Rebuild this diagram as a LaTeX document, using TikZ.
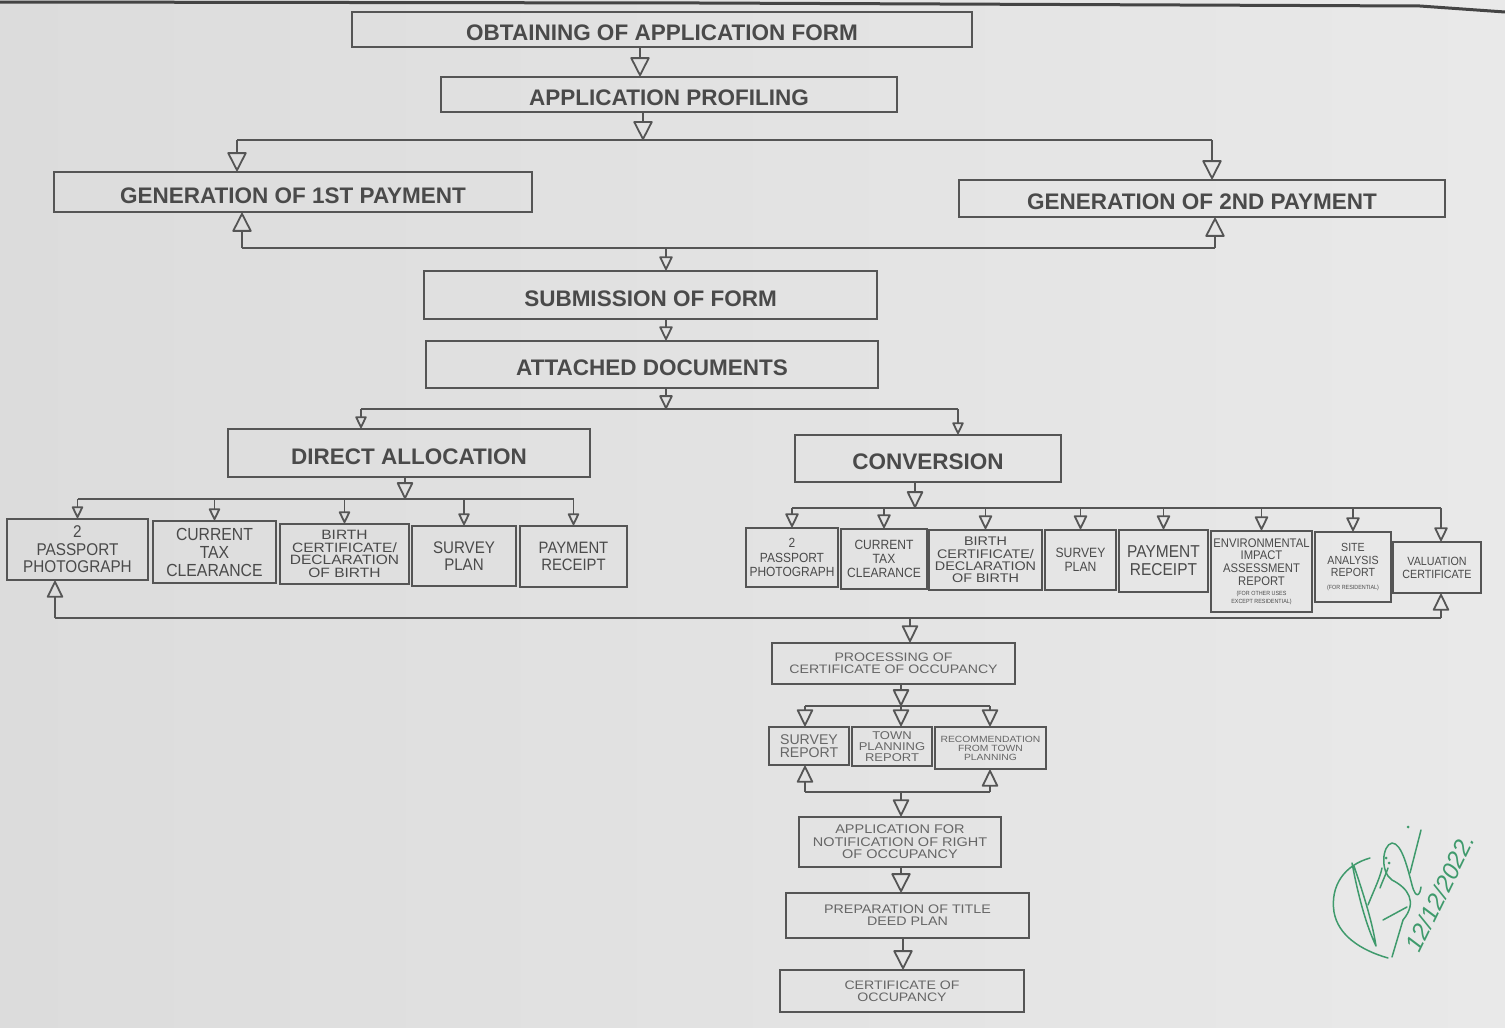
\documentclass[tikz,border=0pt]{standalone}
\usepackage{fontspec}
\setmainfont{Liberation Sans}
\newfontfamily\nrw[FakeStretch=0.9]{Liberation Sans}
\newfontfamily\wde[FakeStretch=1.15]{Liberation Sans}
\usetikzlibrary{arrows.meta,calc}
\definecolor{paperL}{HTML}{DCDCDC}
\definecolor{paperR}{HTML}{E9E9E9}
\definecolor{ink}{HTML}{555555}
\definecolor{txt}{HTML}{4A4A4A}
\definecolor{txtl}{HTML}{666666}
\definecolor{sig}{HTML}{3F9A6C}
\tikzset{
  box/.style={draw=ink, line width=1.8pt, rectangle, inner sep=0pt, align=center, text=txt},
  title/.style={box, text height=22pt, text depth=0pt, font=\bfseries\fontsize{22.5}{26}\selectfont},
  conn/.style={draw=ink, line width=1.8pt},
  tipL/.style={conn, -{Triangle[open,round,length=20pt,width=20pt]}},
  tipM/.style={conn, -{Triangle[open,round,length=18pt,width=17pt]}},
  tipS/.style={conn, -{Triangle[open,round,length=15pt,width=14pt]}},
  tipXS/.style={conn, -{Triangle[open,round,length=13pt,width=12pt]}},
}
\newcommand\fs[2]{\fontsize{#1}{#2}\selectfont}
\begin{document}
\begin{tikzpicture}[x=1pt,y=-1pt]
\useasboundingbox (0,0) rectangle (1505,1028);
\shade[left color=paperL, right color=paperR] (0,0) rectangle (1505,1028);
\draw[line width=3pt, color=ink!80!black] (0,2) -- (700,3) -- (1420,6) -- (1505,12);

% ---- boxes ----
\node[title, minimum width=620, minimum height=35] (obt) at (662,29.5) {OBTAINING OF APPLICATION FORM};
\node[title, minimum width=456, minimum height=35] (prof) at (669,94.5) {APPLICATION PROFILING};
\node[title, minimum width=478, minimum height=40] (gen1) at (293,192) {GENERATION OF 1ST PAYMENT};
\node[title, minimum width=486, minimum height=37] (gen2) at (1202,198.5) {GENERATION OF 2ND PAYMENT};
\node[title, minimum width=453, minimum height=48] (sub) at (650.5,295) {SUBMISSION OF FORM};
\node[title, minimum width=452, minimum height=47] (att) at (652,364.5) {ATTACHED DOCUMENTS};
\node[title, minimum width=362, minimum height=48] (dir) at (409,453) {DIRECT ALLOCATION};
\node[title, minimum width=266, minimum height=47] (conv) at (928,458.5) {CONVERSION};

% left row
\node[box, minimum width=141, minimum height=61, font=\nrw\fs{17}{17.5}] (L1) at (77.5,549.5) {2\\PASSPORT\\PHOTOGRAPH};
\node[box, minimum width=123, minimum height=62, font=\nrw\fs{17.5}{18}] (L2) at (214.5,552) {CURRENT\\TAX\\CLEARANCE};
\node[box, minimum width=129, minimum height=60, font=\wde\fs{13.5}{12.5}] (L3) at (344.5,554) {BIRTH\\CERTIFICATE/\\DECLARATION\\OF BIRTH};
\node[box, minimum width=104, minimum height=60, font=\nrw\fs{16.8}{17}] (L4) at (464,556) {SURVEY\\PLAN};
\node[box, minimum width=107, minimum height=61, font=\nrw\fs{16.5}{17}] (L5) at (573.5,556.5) {PAYMENT\\RECEIPT};

% right row
\node[box, minimum width=92, minimum height=59, font=\nrw\fs{13.3}{14.5}] (R1) at (792,557.5) {2\\PASSPORT\\PHOTOGRAPH};
\node[box, minimum width=86, minimum height=60, font=\nrw\fs{13.4}{14}] (R2) at (884,559) {CURRENT\\TAX\\CLEARANCE};
\node[box, minimum width=113, minimum height=60, font=\wde\fs{12.5}{12.3}] (R3) at (985.5,560) {BIRTH\\CERTIFICATE/\\DECLARATION\\OF BIRTH};
\node[box, minimum width=71, minimum height=60, font=\nrw\fs{13.5}{14}] (R4) at (1080.5,560) {SURVEY\\PLAN};
\node[box, minimum width=89, minimum height=62, font=\nrw\fs{17.2}{18}] (R5) at (1163.5,561) {PAYMENT\\RECEIPT};
\node[box, minimum width=101, minimum height=81, font=\nrw\fs{12.5}{12.7}] (R6) at (1261.5,571.5) {ENVIRONMENTAL\\IMPACT\\ASSESSMENT\\REPORT\\[-2pt]{\fs{6}{7}(FOR OTHER USES}\\[-5pt]{\fs{6}{7}EXCEPT RESIDENTIAL)}};
\node[box, minimum width=76, minimum height=70, font=\nrw\fs{11.8}{12.5}] (R7) at (1353,567) {SITE\\ANALYSIS\\REPORT\\{\fs{6}{7}(FOR RESIDENTIAL)}};
\node[box, minimum width=88, minimum height=51, font=\nrw\fs{11.9}{13}] (R8) at (1437,567.5) {VALUATION\\CERTIFICATE};

% lower chain
\node[box, text=txtl, minimum width=243, minimum height=41, font=\wde\fs{12.3}{12}] (proc) at (893.5,663.5) {PROCESSING OF\\CERTIFICATE OF OCCUPANCY};
\node[box, text=txtl, minimum width=80, minimum height=38, font=\fs{14.1}{13}] (S1) at (809,746) {SURVEY\\REPORT};
\node[box, text=txtl, minimum width=80, minimum height=39, font=\wde\fs{11.3}{11}] (S2) at (892,746.5) {TOWN\\PLANNING\\REPORT};
\node[box, text=txtl, minimum width=111, minimum height=42, font=\wde\fs{9}{9}] (S3) at (990.5,748) {RECOMMENDATION\\FROM TOWN\\PLANNING};
\node[box, text=txtl, minimum width=202, minimum height=50, font=\wde\fs{12.6}{12.5}] (app) at (900,842) {APPLICATION FOR\\NOTIFICATION OF RIGHT\\OF OCCUPANCY};
\node[box, text=txtl, minimum width=243, minimum height=45, font=\wde\fs{12.4}{12}] (prep) at (907.5,915.5) {PREPARATION OF TITLE\\DEED PLAN};
\node[box, text=txtl, minimum width=244, minimum height=42, font=\wde\fs{12.3}{12}] (cert) at (902,991) {CERTIFICATE OF\\OCCUPANCY};

% ---- junction coordinates ----
\coordinate (a1) at (640,60);
\coordinate (j1) at (643,140);
\coordinate (j1l) at (237,140);
\coordinate (j1r) at (1212,140);
\coordinate (j2l) at (242,248);
\coordinate (j2r) at (1215,248);
\coordinate (j2m) at (666,248);
\coordinate (j3m) at (666,409);
\coordinate (j3l) at (361,409);
\coordinate (j3r) at (958,409);
\coordinate (j4m) at (405,499);
\coordinate (j5m) at (915,508);
\coordinate (j6l) at (55,618);
\coordinate (j6r) at (1441,618);
\coordinate (j6m) at (910,618);
\coordinate (j7m) at (901,706);
\coordinate (j7l) at (805,706);
\coordinate (j7r) at (990,706);
\coordinate (j8m) at (901,792);
\coordinate (j8l) at (805,792);
\coordinate (j8r) at (990,792);
\coordinate (pc) at (903,950);

% ---- connectors ----
\draw[tipL] (obt.south -| a1) -- (a1 |- prof.north);
\draw[tipL] (prof.south -| j1) -- (j1);
\draw[conn] (j1l) -- (j1r);
\draw[tipL] (j1l) -- (j1l |- gen1.north);
\draw[tipL] (j1r) -- (j1r |- gen2.north);

\draw[conn] (j2l) -- (j2r);
\draw[tipL] (j2l) -- (j2l |- gen1.south);
\draw[tipL] (j2r) -- (j2r |- gen2.south);
\draw[tipS] (j2m) -- (j2m |- sub.north);
\draw[tipS] (sub.south -| j2m) -- (j2m |- att.north);

\draw[tipS] (att.south -| j3m) -- (j3m);
\draw[conn] (j3l) -- (j3r);
\draw[tipXS] (j3l) -- (j3l |- dir.north);
\draw[tipXS] (j3r) -- (j3r |- conv.north);

\draw[tipM] (dir.south -| j4m) -- (j4m);
\draw[conn] (L1 |- j4m) -- (L5 |- j4m);
\foreach \n in {L1,L2,L3,L4,L5} \draw[tipXS] (\n |- j4m) -- (\n.north);

\draw[tipM] (conv.south -| j5m) -- (j5m);
\draw[conn] (R1 |- j5m) -- (j6r |- j5m);
\foreach \n in {R1,R2,R3,R4,R5,R6,R7} \draw[tipS] (\n |- j5m) -- (\n.north);
\draw[tipS] (j6r |- j5m) -- (j6r |- R8.north);

\draw[conn] (j6l) -- (j6r);
\draw[tipM] (j6l) -- (j6l |- L1.south);
\draw[tipM] (j6r) -- (j6r |- R8.south);
\draw[tipM] (j6m) -- (j6m |- proc.north);

\draw[tipM] (proc.south -| j7m) -- (j7m);
\draw[conn] (j7l) -- (j7r);
\draw[tipM] (j7l) -- (j7l |- S1.north);
\draw[tipM] (j7m) -- (j7m |- S2.north);
\draw[tipM] (j7r) -- (j7r |- S3.north);

\draw[conn] (j8l) -- (j8r);
\draw[tipM] (j8l) -- (j8l |- S1.south);
\draw[tipM] (j8r) -- (j8r |- S3.south);
\draw[tipM] (j8m) -- (j8m |- app.north);
\draw[tipL] (app.south -| j8m) -- (j8m |- prep.north);
\draw[tipL] (prep.south -| pc) -- (pc |- cert.north);

% ---- signature ----
\node[text=sig, rotate=64, font=\itshape\fs{24}{24}] (date) at (1440,893) {12/12/2022.};
\begin{scope}[draw=sig, line width=1.5pt, line cap=round, line join=round]
% big outer loop
\draw (1370,858) .. controls (1345,865) and (1330,885) .. (1334,912)
      .. controls (1338,935) and (1360,950) .. (1388,958);
% inner narrow loop
\draw (1352,863) .. controls (1358,895) and (1366,925) .. (1376,946)
      .. controls (1372,920) and (1362,890) .. (1354,866);
% small strokes
\draw (1368,905) .. controls (1374,890) and (1380,878) .. (1382,868);
\draw (1380,888) .. controls (1383,880) and (1386,874) .. (1388,868);
\draw (1383,920) -- (1407,907);
% long line with S loop
\draw (1392,957) -- (1403,920) .. controls (1418,902) and (1408,888) .. (1392,880)
      .. controls (1380,872) and (1382,845) .. (1392,843)
      .. controls (1402,843) and (1408,870) .. (1412,885)
      .. controls (1416,900) and (1420,895) .. (1421,887);
\draw (1410,873) -- (1421,830);
\fill[sig] (1386,858) circle (1.5);
\fill[sig] (1389,863) circle (1.5);
\fill[sig] (1408,827) circle (1.5);
\end{scope}
\end{tikzpicture}
\end{document}
